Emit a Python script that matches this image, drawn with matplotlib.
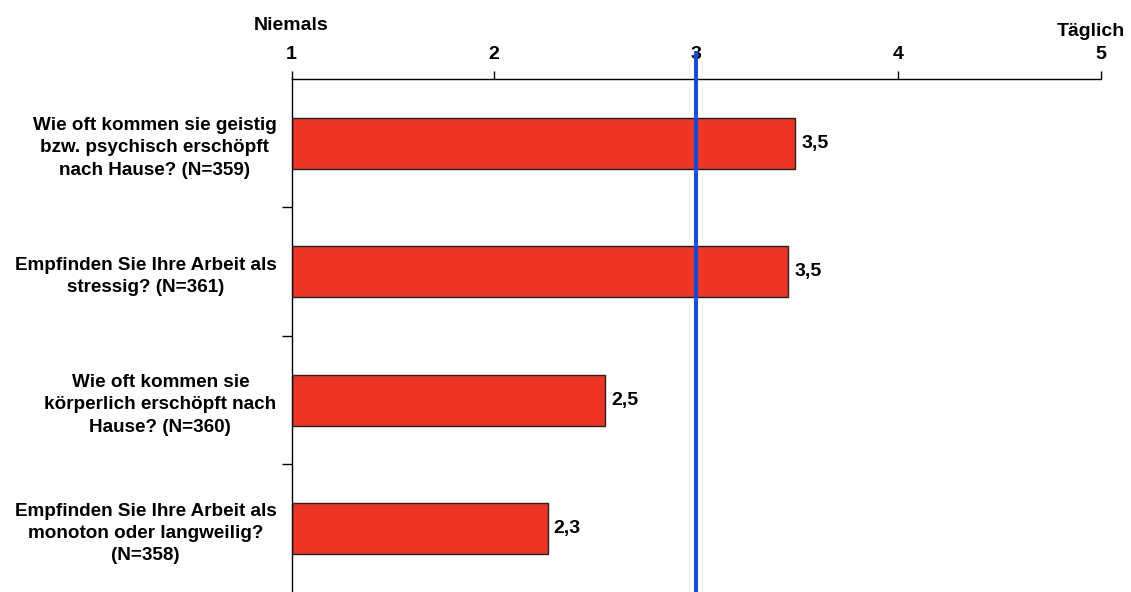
import matplotlib
matplotlib.use('Agg')
import matplotlib.pyplot as plt

plt.rcParams['font.family'] = ['Liberation Sans', 'DejaVu Sans']
plt.rcParams['font.weight'] = 'bold'

categories = [
    'Wie oft kommen sie geistig\nbzw. psychisch erschöpft\nnach Hause? (N=359)',
    'Empfinden Sie Ihre Arbeit als\nstressig? (N=361)',
    'Wie oft kommen sie\nkörperlich erschöpft nach\nHause? (N=360)',
    'Empfinden Sie Ihre Arbeit als\nmonoton oder langweilig?\n(N=358)',
]
values = [3.49, 3.455, 2.55, 2.265]
value_labels = ['3,5', '3,5', '2,5', '2,3']
scale_ticks = [1, 2, 3, 4, 5]
reference = 3

fig = plt.figure(figsize=(11.31, 5.92), dpi=100)
ax = fig.add_axes([0.2579, -0.0017, 0.7153, 0.8683])

pos = list(range(len(categories)))
ax.barh(pos, [v - 1 for v in values], left=1, height=0.4,
        color='#EE3524', edgecolor='#222222', linewidth=1, zorder=2)
for p, v, lab in zip(pos, values, value_labels):
    ax.text(v + 0.03, p, lab, va='center', ha='left', fontsize=14, fontweight='bold')

ax.axvline(reference, ymin=0, ymax=1.05, color='#0A4BE0', linewidth=2.8,
           clip_on=False, zorder=3)

ax.set_xlim(1, 5)
ax.set_ylim(len(categories) - 0.5, -0.5)
ax.xaxis.tick_top()
ax.set_xticks(scale_ticks)
ax.set_xticklabels([str(t) for t in scale_ticks], fontsize=14, fontweight='bold')
ax.tick_params(axis='x', direction='out', length=6, width=1, pad=5.8)

ax.set_yticks(pos)
ax.set_yticklabels(categories, fontsize=13.6, fontweight='bold')
for t in ax.get_yticklabels():
    t.set_multialignment('center')
    t.set_linespacing(1.42)
ax.set_yticks([0.5, 1.5, 2.5], minor=True)
ax.tick_params(axis='y', which='major', length=0, pad=11)
ax.tick_params(axis='y', which='minor', length=7, width=1)

for s in ['right', 'bottom']:
    ax.spines[s].set_visible(False)
ax.spines['top'].set_linewidth(1)
ax.spines['left'].set_linewidth(1)

fig.text(291 / 1131, 1 - 30 / 592, 'Niemals', ha='center', va='baseline',
         fontsize=14, fontweight='bold')
fig.text(1091 / 1131, 1 - 36 / 592, 'Täglich', ha='center', va='baseline',
         fontsize=14, fontweight='bold')

fig.savefig('out.png', dpi=100)
